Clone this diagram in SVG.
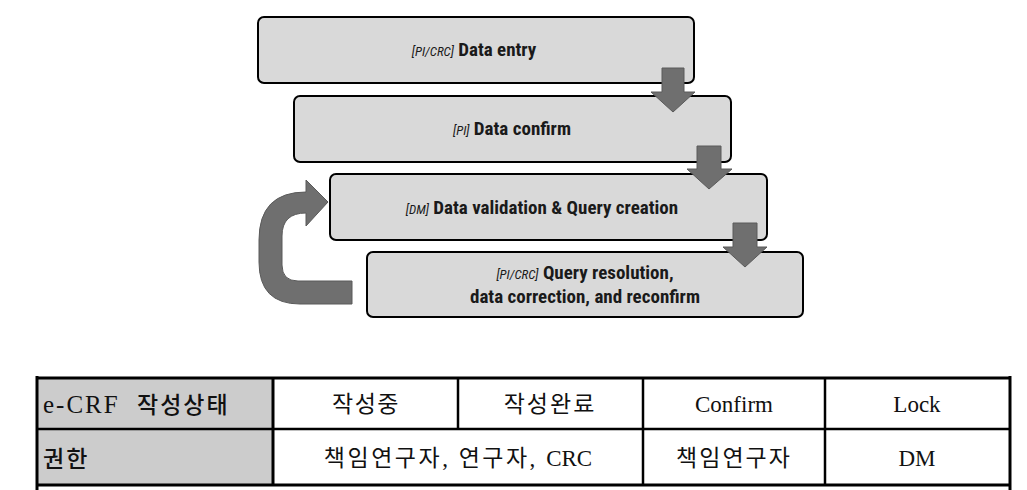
<svg xmlns="http://www.w3.org/2000/svg" width="1027" height="490" viewBox="0 0 1027 490">
<defs>
<style>
.box{fill:#d9d9d9;stroke:#000;stroke-width:2}
.arr{fill:#6f6f6f;stroke:#5a5a5a;stroke-width:1}
.lbl{font-family:"Liberation Sans Narrow","Roboto Condensed","Liberation Sans",sans-serif;font-size:19px;font-weight:bold;fill:#1a1a1a;text-anchor:middle}
.tag{font-size:13px;font-style:italic;font-weight:normal}
.cell{font-family:"Liberation Serif","Noto Sans CJK KR",serif;font-size:23px;fill:#111;text-anchor:middle}
.hdr{font-family:"Liberation Serif","Noto Sans CJK KR",serif;font-size:25px;fill:#111}
.kb{font-weight:500;font-size:23px}
.thick{stroke:#000;stroke-width:3;fill:none}
.thin{stroke:#000;stroke-width:2.5;fill:none}
</style>
</defs>
<rect width="1027" height="490" fill="#fff"/>
<g id="node-entry">
<rect class="box" x="258" y="17" width="436" height="66" rx="6"/>
<text class="lbl" x="474" y="56"><tspan class="tag">[PI/CRC]</tspan> Data entry</text>
</g>
<g id="node-confirm">
<rect class="box" x="294" y="96" width="437" height="66" rx="6"/>
<text class="lbl" x="512" y="135"><tspan class="tag">[PI]</tspan> Data confirm</text>
</g>
<g id="node-validation">
<rect class="box" x="330" y="174" width="437" height="66" rx="6"/>
<text class="lbl" x="542" y="214"><tspan class="tag">[DM]</tspan> Data validation &amp; Query creation</text>
</g>
<g id="node-resolution">
<rect class="box" x="367" y="252" width="436" height="65" rx="6"/>
<text class="lbl" x="585" y="279"><tspan class="tag">[PI/CRC]</tspan> Query resolution,</text>
<text class="lbl" x="585" y="303">data correction, and reconfirm</text>
</g>
<g id="connectors">
<path class="arr" d="M662,68 H684 V92 H695 L673,112 L651,92 H662 Z"/>
<path class="arr" d="M697,146 H721 V169 H732 L709,189 L687,169 H697 Z"/>
<path class="arr" d="M733,223 H757 V247 H767 L745,267 L723,247 H733 Z"/>
<path class="arr" d="M352,281 L298,281 Q282,281 282,265 L282,236 Q282,213 306,213 L306,226 L328,202 L306,180 L306,192 Q259,192 259,240 L259,262 Q259,304 300,304 L352,304 Z"/>
</g>
<g id="table">
<rect x="37" y="378" width="236" height="107" fill="#cccccc"/>
<line class="thick" x1="37" y1="378" x2="1010" y2="378"/>
<line class="thin" x1="37" y1="429" x2="1010" y2="429"/>
<line class="thick" x1="37" y1="485" x2="1010" y2="485"/>
<line class="thick" x1="37" y1="376" x2="37" y2="490"/>
<line class="thick" x1="1010" y1="376" x2="1010" y2="490"/>
<line class="thick" x1="273" y1="378" x2="273" y2="485"/>
<line class="thin" x1="458" y1="378" x2="458" y2="429"/>
<line class="thin" x1="643" y1="378" x2="643" y2="485"/>
<line class="thin" x1="825" y1="378" x2="825" y2="485"/>
<text class="hdr" x="43" y="413" letter-spacing="2">e-CRF<tspan class="kb" x="137" letter-spacing="2">작성상태</tspan></text>
<text class="hdr" x="43" y="467"><tspan class="kb" letter-spacing="2">권한</tspan></text>
<text class="cell" x="366" y="412" letter-spacing="1.5">작성중</text>
<text class="cell" x="550" y="412" letter-spacing="2">작성완료</text>
<text class="cell" x="734" y="412">Confirm</text>
<text class="cell" x="917" y="412">Lock</text>
<text class="cell" x="458" y="466"><tspan letter-spacing="2.5">책임연구자, 연구자, </tspan><tspan>CRC</tspan></text>
<text class="cell" x="734" y="466" letter-spacing="2">책임연구자</text>
<text class="cell" x="917" y="466">DM</text>
</g>
</svg>
